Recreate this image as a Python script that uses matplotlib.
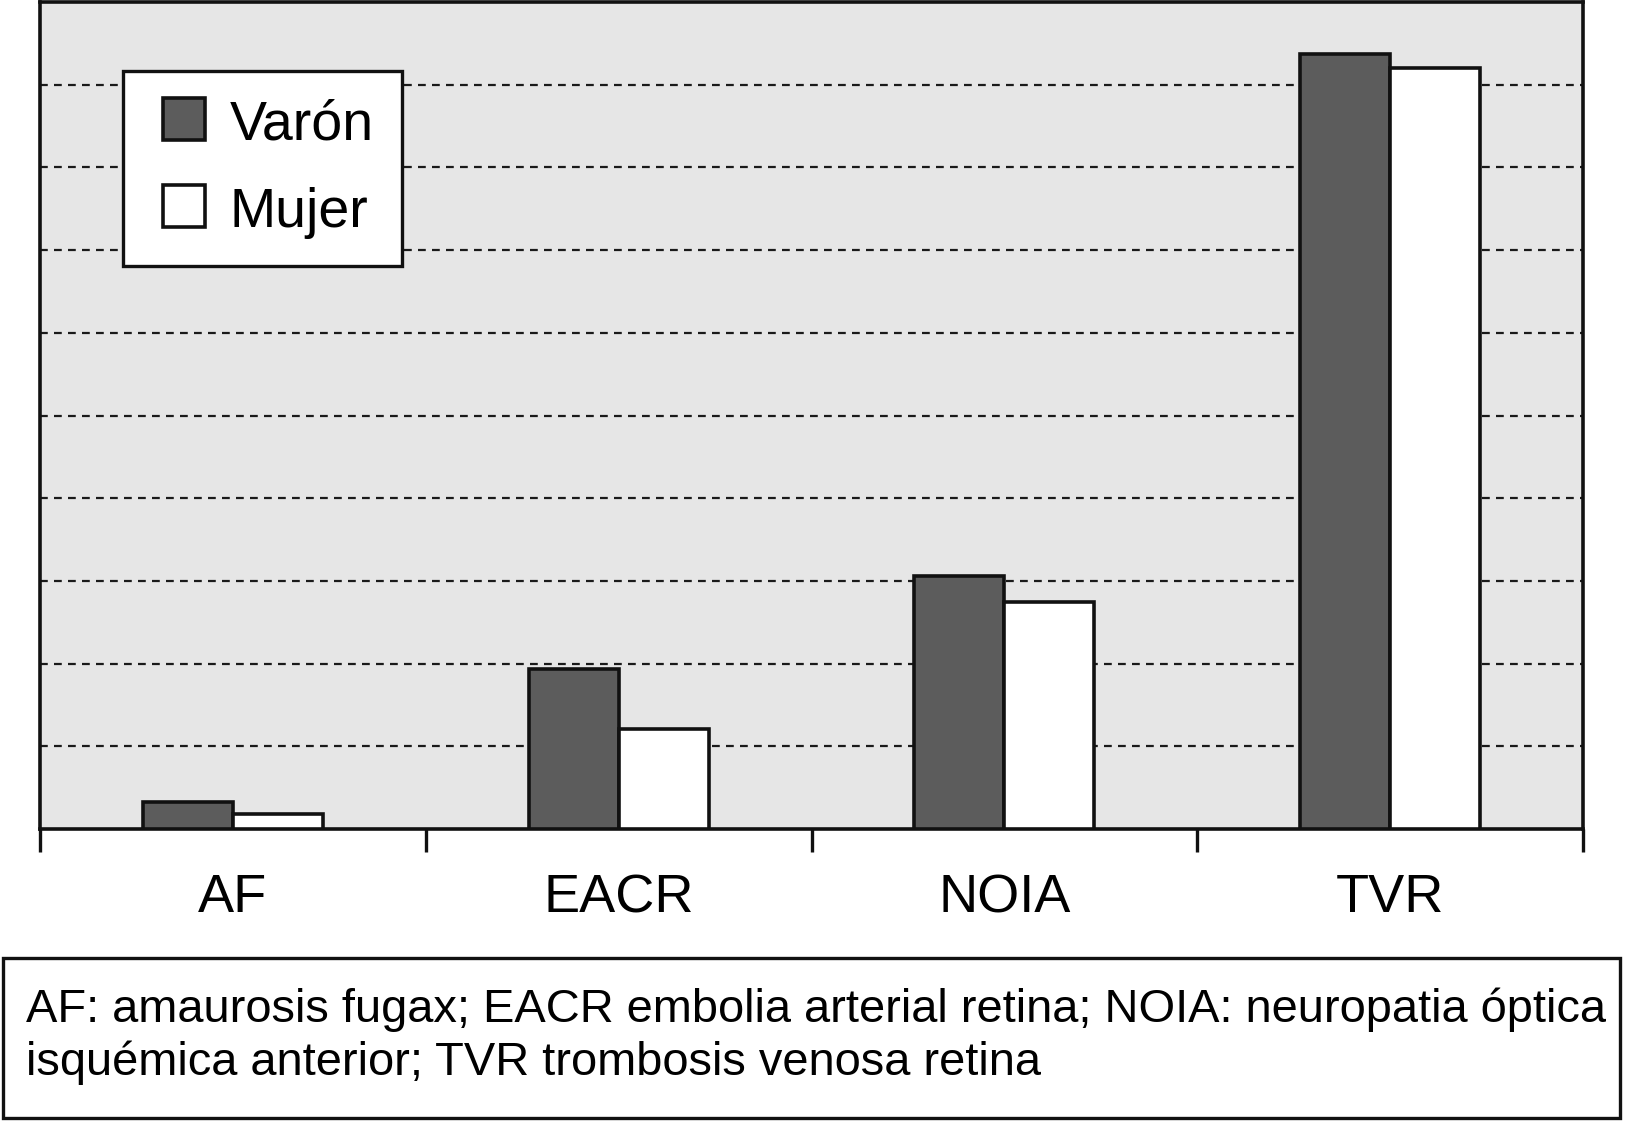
import numpy as np
import matplotlib
matplotlib.use("Agg")
import matplotlib.pyplot as plt
from matplotlib.patches import Rectangle
from matplotlib.lines import Line2D

plt.rcParams['font.family'] = ['Liberation Sans', 'DejaVu Sans']

# data
categories = ["AF", "EACR", "NOIA", "TVR"]
varon = [0.33, 1.94, 3.06, 9.37]
mujer = [0.18, 1.21, 2.75, 9.2]
series_names = ["Varón", "Mujer"]
series_colors = ["#5c5c5c", "white"]
caption_lines = [
    "AF: amaurosis fugax; EACR embolia arterial retina; NOIA: neuropatia óptica",
    "isquémica anterior; TVR trombosis venosa retina",
]

W, H = 1625, 1121
fig = plt.figure(figsize=(W / 100, H / 100), dpi=100)
ax = fig.add_axes([40 / W, 1 - 829 / H, (1583 - 40) / W, (829 - 2) / H])

x = np.arange(len(categories))
width = 0.233
ax.bar(x - width / 2, varon, width, color=series_colors[0], edgecolor="#111111",
       linewidth=2.6, zorder=3)
ax.bar(x + width / 2, mujer, width, color=series_colors[1], edgecolor="#111111",
       linewidth=2.6, zorder=3)

ax.set_facecolor("#e6e6e6")
ax.set_xlim(-0.5, len(categories) - 0.5)
ax.set_ylim(0, 10)
ax.set_yticks(np.arange(1, 10))
ax.yaxis.grid(True, color="#1a1a1a", linestyle=(0, (3.5, 2.8)), linewidth=1.6)
ax.set_axisbelow(True)
ax.tick_params(axis="y", left=False, labelleft=False)

for sp in ax.spines.values():
    sp.set_linewidth(2.6)
    sp.set_color("#111111")

ax.set_xticks(x)
ax.set_xticklabels(categories, fontsize=39)
ax.set_xticks(np.arange(-0.5, len(categories)), minor=True)
ax.tick_params(axis="x", which="major", length=0, pad=32)
ax.tick_params(axis="x", which="minor", length=16.5, width=2.4, color="#111111")

# legend with square markers
handles = [Line2D([], [], linestyle="none", marker="s", markersize=30,
                  markerfacecolor=c, markeredgecolor="#111111", markeredgewidth=2.6)
           for c in series_colors]
leg = ax.legend(handles, series_names, loc="upper left",
                bbox_to_anchor=(123 / W, 1 - 71 / H),
                bbox_transform=fig.transFigure, borderaxespad=0,
                fontsize=40, fancybox=False, framealpha=1, edgecolor="#111111",
                handlelength=1.19, handleheight=0.79, handletextpad=0.23,
                borderpad=0.5, labelspacing=0.63, numpoints=1)
leg.get_frame().set_linewidth(2.4)

# caption box under the chart
fig.add_artist(Rectangle((3 / W, 1 - 1118 / H), (1620 - 3) / W, (1118 - 958) / H,
                         transform=fig.transFigure, facecolor="white",
                         edgecolor="#111111", linewidth=2.4))
fig.text(26 / W, 1 - 1022 / H, caption_lines[0], fontsize=33.8, va="baseline")
fig.text(26 / W, 1 - 1075 / H, caption_lines[1], fontsize=33.8, va="baseline")

fig.savefig("out.png", dpi=100)
